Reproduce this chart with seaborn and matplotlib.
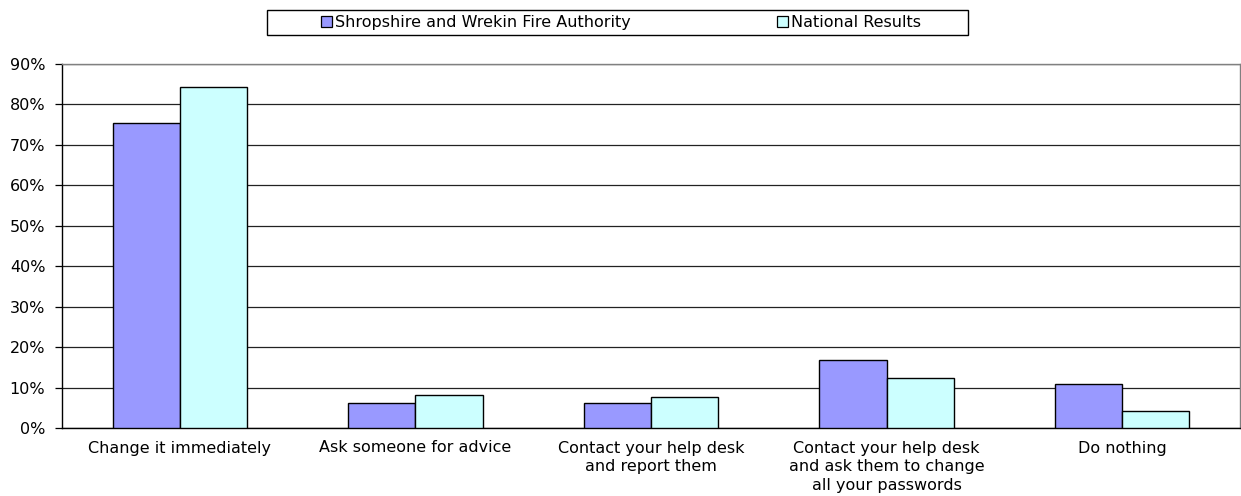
import matplotlib
matplotlib.use("Agg")
import matplotlib.pyplot as plt
from matplotlib.patches import Rectangle, Patch
from matplotlib.ticker import FixedLocator
import seaborn as sns
import pandas as pd

# Responses to: what would you do if you thought someone knew your password?
categories = [
    "Change it immediately",
    "Ask someone for advice",
    "Contact your help desk\nand report them",
    "Contact your help desk\nand ask them to change\nall your passwords",
    "Do nothing",
]
series_names = ["Shropshire and Wrekin Fire Authority", "National Results"]
shropshire = [75.5, 6.3, 6.3, 16.9, 10.9]
national = [84.3, 8.2, 7.6, 12.3, 4.3]
y_ticks = [0, 10, 20, 30, 40, 50, 60, 70, 80, 90]
y_labels = [f"{v}%" for v in y_ticks]
colors = ["#9999FF", "#CCFFFF"]

df = pd.DataFrame({
    "category": categories * 2,
    "series": [series_names[0]] * len(categories) + [series_names[1]] * len(categories),
    "value": shropshire + national,
})

FS = 11.5

sns.set_theme(style="white")
plt.rcParams["font.family"] = ["DejaVu Sans"]
plt.rcParams["font.size"] = FS
plt.rcParams["text.color"] = "black"
plt.rcParams["xtick.color"] = "black"
plt.rcParams["ytick.color"] = "black"

W, H = 1241, 496
fig = plt.figure(figsize=(W / 100, H / 100), dpi=100)
ax = fig.add_axes([62 / W, 1 - 428 / H, (1240 - 62) / W, (428 - 64) / H])

sns.barplot(
    data=df, x="category", y="value", hue="series",
    order=categories, hue_order=series_names,
    palette=colors, width=0.57, edgecolor="black", linewidth=1.0,
    saturation=1, legend=False, ax=ax, zorder=3,
)

ax.set_xlim(-0.5, len(categories) - 0.5)
ax.set_ylim(0, 90)
ax.set_yticks(y_ticks)
ax.set_yticklabels(y_labels, fontsize=FS, color="black")
ax.set_xlabel("")
ax.set_ylabel("")

# horizontal gridlines
ax.yaxis.grid(True, color="#222222", linewidth=0.9, zorder=0)
ax.xaxis.grid(False)
ax.set_axisbelow(True)

# category labels centred, tick marks on category boundaries
ax.tick_params(axis="x", which="major", length=0, pad=9, labelsize=FS, labelcolor="black")
ax.xaxis.set_minor_locator(FixedLocator([i - 0.5 for i in range(len(categories) + 1)]))
ax.tick_params(axis="x", which="minor", length=4, width=0.9, color="black", direction="out")
ax.tick_params(axis="y", which="major", length=5, width=0.9, color="black", direction="out",
               left=True, pad=7)

for lbl in ax.get_xticklabels():
    lbl.set_linespacing(1.32)

for side in ["left", "bottom"]:
    ax.spines[side].set_color("black")
    ax.spines[side].set_linewidth(1.0)
for side in ["top", "right"]:
    ax.spines[side].set_color("#808080")
    ax.spines[side].set_linewidth(1.0)

# legend across the top, inside a plain rectangular frame
handles = [Patch(facecolor=c, edgecolor="black", linewidth=0.9) for c in colors]
leg = fig.legend(
    handles, series_names, loc="center", ncol=2, mode="expand",
    bbox_to_anchor=(321 / W, 1 - 35 / H, (921 - 321) / W, 25 / H),
    frameon=False, borderpad=0, borderaxespad=0,
    handlelength=0.7, handleheight=0.7, handletextpad=0.2,
    fontsize=FS,
)
for t in leg.get_texts():
    t.set_color("black")
fig.patches.append(Rectangle(
    (267 / W, 1 - 35 / H), (968 - 267) / W, 25 / H,
    transform=fig.transFigure, fill=False, edgecolor="black", linewidth=1.0,
))

fig.savefig("out.png", dpi=100, facecolor="white")
